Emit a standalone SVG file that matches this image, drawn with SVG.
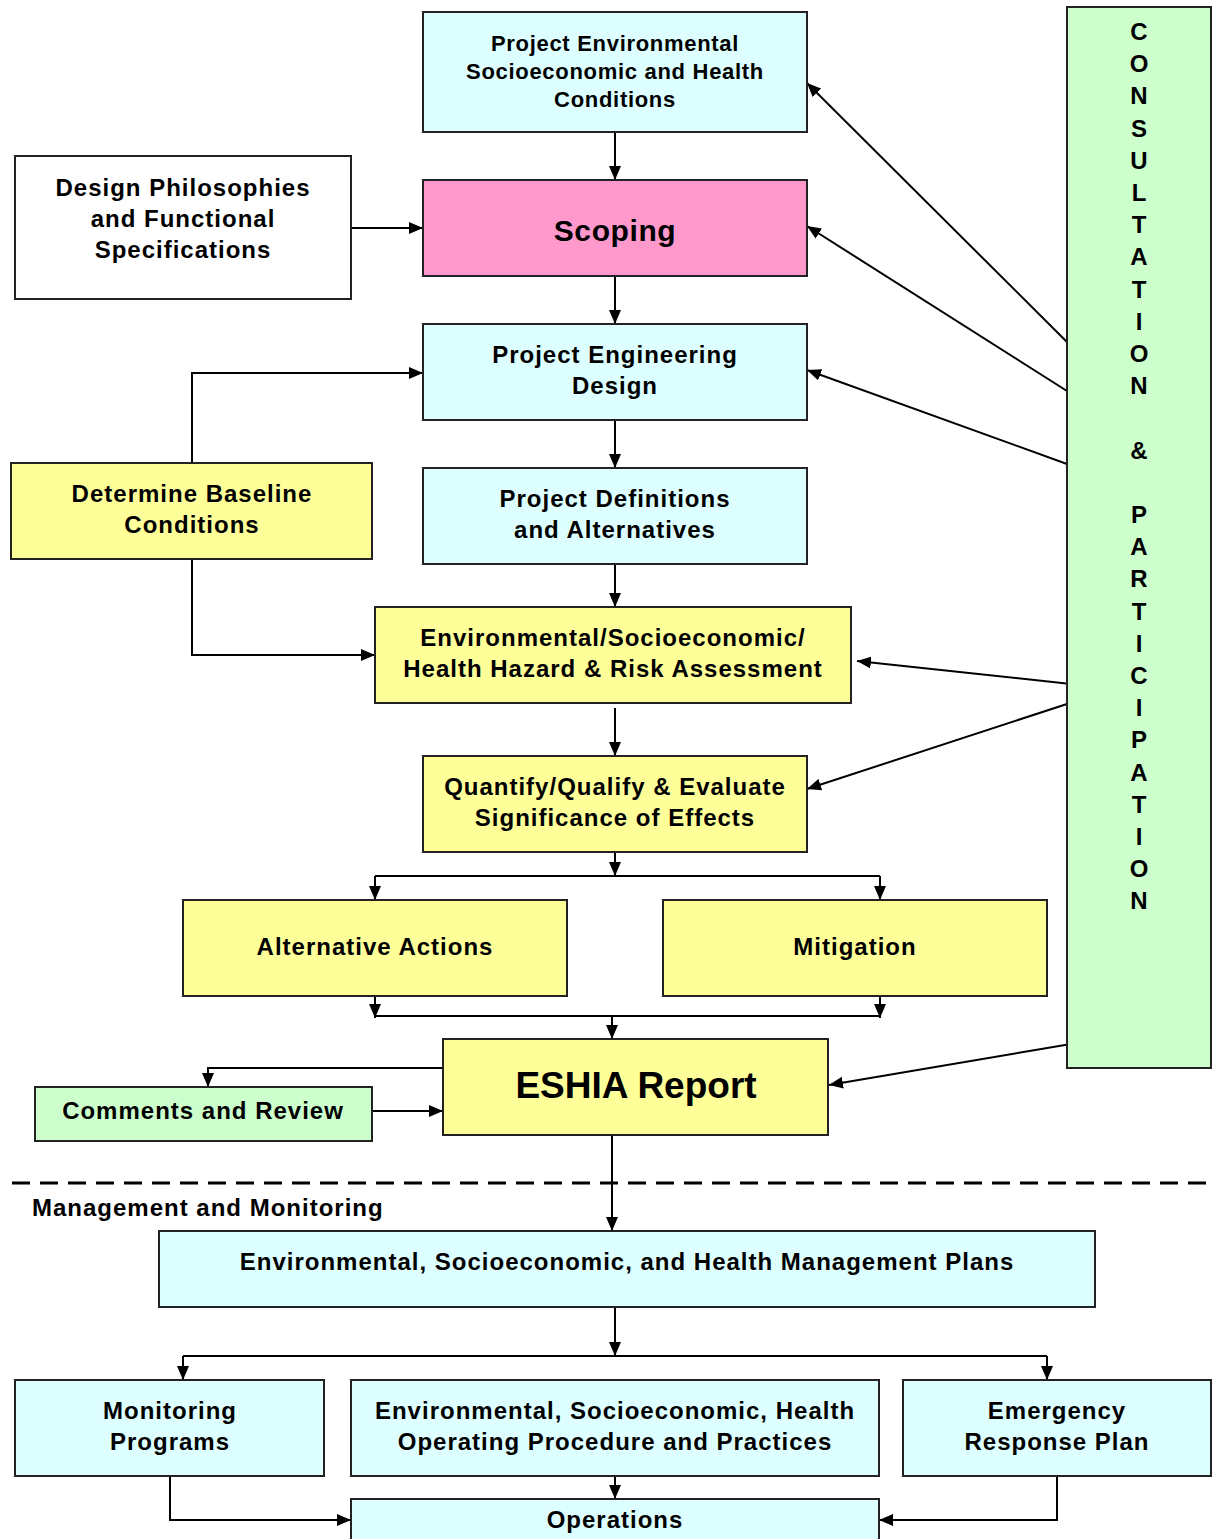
<svg xmlns="http://www.w3.org/2000/svg" width="1212" height="1539" viewBox="0 0 1212 1539">
<defs>
<marker id="ah" viewBox="0 0 14 12" refX="14" refY="6" markerWidth="14" markerHeight="12" markerUnits="userSpaceOnUse" orient="auto">
<path d="M0,0 L14,6 L0,12 Z" fill="#000"/>
</marker>
<style>
.b{stroke:#222;stroke-width:2}
.cy{fill:#DDFFFF}
.ye{fill:#FFFF99}
.gr{fill:#CCFFCC}
.pk{fill:#FF99CC}
.wh{fill:#FFFFFF}
text{font-family:"Liberation Sans",Arial,sans-serif;font-weight:bold;fill:#000;text-anchor:middle}
.t17{font-size:22px;letter-spacing:0.7px}
.t19{font-size:24px;letter-spacing:1px}
.c{fill:none;stroke:#000;stroke-width:2}
.a{marker-end:url(#ah)}
</style>
</defs>
<rect width="1212" height="1539" fill="#fff"/>

<g id="connectors">
<line class="c a" x1="615" y1="132" x2="615" y2="180"/>
<line class="c a" x1="351" y1="228" x2="423" y2="228"/>
<line class="c a" x1="615" y1="276" x2="615" y2="324"/>
<polyline class="c a" points="192,463 192,373 423,373"/>
<polyline class="c a" points="192,559 192,655 375,655"/>
<line class="c a" x1="615" y1="420" x2="615" y2="468"/>
<line class="c a" x1="615" y1="564" x2="615" y2="607"/>
<line class="c a" x1="615" y1="708" x2="615" y2="756"/>
<line class="c a" x1="615" y1="852" x2="615" y2="876"/>
<line class="c" x1="375" y1="876" x2="880" y2="876"/>
<line class="c a" x1="375" y1="876" x2="375" y2="900"/>
<line class="c a" x1="880" y1="876" x2="880" y2="900"/>
<line class="c a" x1="375" y1="996" x2="375" y2="1018"/>
<line class="c a" x1="880" y1="996" x2="880" y2="1018"/>
<line class="c" x1="375" y1="1016" x2="880" y2="1016"/>
<line class="c a" x1="612" y1="1016" x2="612" y2="1039"/>
<polyline class="c a" points="447,1068 208,1068 208,1087"/>
<line class="c a" x1="372" y1="1111" x2="443" y2="1111"/>
<line class="c a" x1="612" y1="1135" x2="612" y2="1231"/>
<line class="c a" x1="615" y1="1307" x2="615" y2="1356"/>
<line class="c" x1="183" y1="1356" x2="1047" y2="1356"/>
<line class="c a" x1="183" y1="1356" x2="183" y2="1380"/>
<line class="c a" x1="1047" y1="1356" x2="1047" y2="1380"/>
<line class="c a" x1="615" y1="1476" x2="615" y2="1499"/>
<polyline class="c a" points="170,1476 170,1520 351,1520"/>
<polyline class="c a" points="1057,1476 1057,1520 879,1520"/>
<line class="c a" x1="1067" y1="342" x2="807" y2="83"/>
<line class="c a" x1="1067" y1="391" x2="807" y2="226"/>
<line class="c a" x1="1067" y1="464" x2="807" y2="370"/>
<line class="c a" x1="1071" y1="684" x2="857" y2="661"/>
<line class="c a" x1="1067" y1="704" x2="807" y2="789"/>
<line class="c a" x1="1071" y1="1044" x2="829" y2="1085"/>
<line x1="12" y1="1183" x2="1212" y2="1183" stroke="#000" stroke-width="3" stroke-dasharray="18,10"/>
</g>

<g id="n-project-env">
<rect class="b cy" x="423" y="12" width="384" height="120"/>
<text class="t17" x="615" y="51">Project Environmental</text>
<text class="t17" x="615" y="79">Socioeconomic and Health</text>
<text class="t17" x="615" y="107">Conditions</text>
</g>
<g id="n-design">
<rect class="b wh" x="15" y="156" width="336" height="143"/>
<text class="t19" x="183" y="196">Design Philosophies</text>
<text class="t19" x="183" y="227">and Functional</text>
<text class="t19" x="183" y="258">Specifications</text>
</g>
<g id="n-scoping">
<rect class="b pk" x="423" y="180" width="384" height="96"/>
<text x="615" y="241" style="font-size:30px;letter-spacing:0.6px">Scoping</text>
</g>
<g id="n-engineering">
<rect class="b cy" x="423" y="324" width="384" height="96"/>
<text class="t19" x="615" y="363">Project Engineering</text>
<text class="t19" x="615" y="394">Design</text>
</g>
<g id="n-baseline">
<rect class="b ye" x="11" y="463" width="361" height="96"/>
<text class="t19" x="192" y="502">Determine Baseline</text>
<text class="t19" x="192" y="533">Conditions</text>
</g>
<g id="n-definitions">
<rect class="b cy" x="423" y="468" width="384" height="96"/>
<text class="t19" x="615" y="507">Project Definitions</text>
<text class="t19" x="615" y="538">and Alternatives</text>
</g>
<g id="n-hazard">
<rect class="b ye" x="375" y="607" width="476" height="96"/>
<text class="t19" x="613" y="646">Environmental/Socioeconomic/</text>
<text class="t19" x="613" y="677">Health Hazard &amp; Risk Assessment</text>
</g>
<g id="n-quantify">
<rect class="b ye" x="423" y="756" width="384" height="96"/>
<text class="t19" x="615" y="795">Quantify/Qualify &amp; Evaluate</text>
<text class="t19" x="615" y="826">Significance of Effects</text>
</g>
<g id="n-alternative">
<rect class="b ye" x="183" y="900" width="384" height="96"/>
<text class="t19" x="375" y="955">Alternative Actions</text>
</g>
<g id="n-mitigation">
<rect class="b ye" x="663" y="900" width="384" height="96"/>
<text class="t19" x="855" y="955">Mitigation</text>
</g>
<g id="n-eshia">
<rect class="b ye" x="443" y="1039" width="385" height="96"/>
<text x="636" y="1098" style="font-size:37px">ESHIA Report</text>
</g>
<g id="n-comments">
<rect class="b gr" x="35" y="1087" width="337" height="54"/>
<text class="t19" x="203" y="1119">Comments and Review</text>
</g>
<g id="n-consultation">
<rect class="b gr" x="1067" y="7" width="144" height="1061"/>
<text x="1139" y="40" style="font-size:24px"><tspan x="1139">C</tspan><tspan x="1139" dy="32.2">O</tspan><tspan x="1139" dy="32.2">N</tspan><tspan x="1139" dy="32.2">S</tspan><tspan x="1139" dy="32.2">U</tspan><tspan x="1139" dy="32.2">L</tspan><tspan x="1139" dy="32.2">T</tspan><tspan x="1139" dy="32.2">A</tspan><tspan x="1139" dy="32.2">T</tspan><tspan x="1139" dy="32.2">I</tspan><tspan x="1139" dy="32.2">O</tspan><tspan x="1139" dy="32.2">N</tspan><tspan x="1139" dy="64.4">&amp;</tspan><tspan x="1139" dy="64.4">P</tspan><tspan x="1139" dy="32.2">A</tspan><tspan x="1139" dy="32.2">R</tspan><tspan x="1139" dy="32.2">T</tspan><tspan x="1139" dy="32.2">I</tspan><tspan x="1139" dy="32.2">C</tspan><tspan x="1139" dy="32.2">I</tspan><tspan x="1139" dy="32.2">P</tspan><tspan x="1139" dy="32.2">A</tspan><tspan x="1139" dy="32.2">T</tspan><tspan x="1139" dy="32.2">I</tspan><tspan x="1139" dy="32.2">O</tspan><tspan x="1139" dy="32.2">N</tspan></text>
</g>
<g id="n-mgmt-label">
<text class="t19" x="32" y="1216" style="text-anchor:start">Management and Monitoring</text>
</g>
<g id="n-mgmt-plans">
<rect class="b cy" x="159" y="1231" width="936" height="76"/>
<text class="t19" x="627" y="1270">Environmental, Socioeconomic, and Health Management Plans</text>
</g>
<g id="n-monitoring">
<rect class="b cy" x="15" y="1380" width="309" height="96"/>
<text class="t19" x="170" y="1419">Monitoring</text>
<text class="t19" x="170" y="1450">Programs</text>
</g>
<g id="n-operating">
<rect class="b cy" x="351" y="1380" width="528" height="96"/>
<text class="t19" x="615" y="1419">Environmental, Socioeconomic, Health</text>
<text class="t19" x="615" y="1450">Operating Procedure and Practices</text>
</g>
<g id="n-emergency">
<rect class="b cy" x="903" y="1380" width="308" height="96"/>
<text class="t19" x="1057" y="1419">Emergency</text>
<text class="t19" x="1057" y="1450">Response Plan</text>
</g>
<g id="n-operations">
<rect class="b cy" x="351" y="1499" width="528" height="60"/>
<text class="t19" x="615" y="1528">Operations</text>
</g>
</svg>
